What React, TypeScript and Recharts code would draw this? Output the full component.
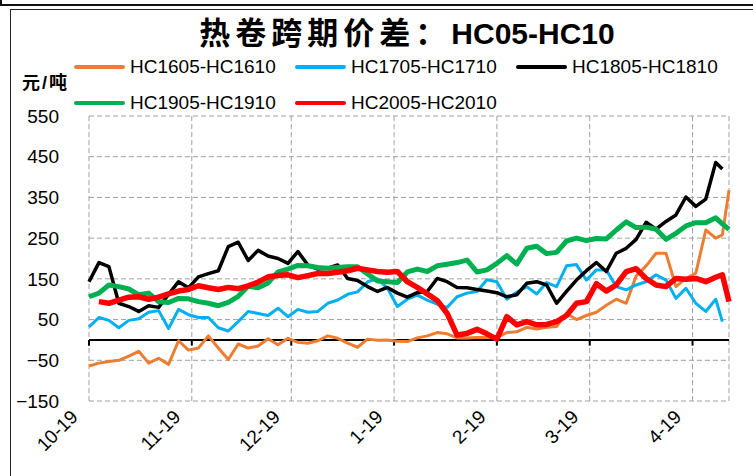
import React from 'react';
import { LineChart, Line, XAxis, YAxis, CartesianGrid, ReferenceLine } from 'recharts';

// Days since 2018-10-19
const days = [0,3,6,9,12,15,18,21,24,27,30,33,36,39,42,45,48,51,54,57,60,63,66,69,72,75,78,81,84,87,90,93,96,99,102,105,108,111,114,117,120,123,126,129,132,135,138,141,144,147,150,153,156,159,162,165,168,171,174,177,180,183,186,189,191,193];

const monthTicks = [0, 31, 61, 92, 123, 151, 182];
const monthLabels = ['10-19', '11-19', '12-19', '1-19', '2-19', '3-19', '4-19'];
const yTicks = [-150, -50, 50, 150, 250, 350, 450, 550];

const hc1605 = [-64,-57,-53,-50,-40,-28,-57,-45,-60,-2,-25,-20,10,-20,-48,-10,-20,
  -15,3,-12,4,-6,-8,-2,10,4,-8,-18,2,-1,0,-3,-4,
  5,10,18,15,5,5,6,6,6,18,20,31,27,31,33,65,
  50,60,68,85,100,90,157,182,213,213,131,151,164,270,250,
  258,368];

const hc1705 = [32,55,48,30,48,52,68,72,28,75,62,55,55,30,22,45,70,
  65,60,78,57,75,68,70,90,98,112,118,143,150,127,82,100,
  110,98,88,80,106,115,119,148,143,100,117,131,113,141,131,182,
  185,147,172,172,131,123,135,143,160,147,102,127,90,70,100,
  45,null];

const hc1805 = [143,190,180,90,82,70,84,80,112,143,128,155,163,170,229,240,195,
  220,206,200,188,217,184,174,176,184,151,146,131,119,129,115,105,
  116,119,151,143,129,128,124,120,116,106,111,139,143,135,90,119,
  147,170,190,168,213,225,247,289,272,291,307,351,328,346,436,
  420,null];

const hc1905 = [106,115,135,131,125,111,115,94,92,102,101,94,90,84,92,107,132,
  128,140,167,174,183,182,178,176,178,180,180,162,145,143,141,167,
  174,168,182,186,190,196,167,172,188,207,186,225,230,212,215,243,
  250,244,249,248,270,290,276,277,272,247,262,280,288,288,300,
  285,272];

const hc2005 = [null,94,90,98,105,106,100,105,113,120,124,133,128,124,129,126,133,
  142,155,158,160,153,158,163,163,166,170,176,172,168,166,168,143,
  129,113,97,65,12,16,26,15,2,57,37,45,37,38,45,60,
  90,94,138,120,135,168,175,151,135,131,151,149,151,143,154,
  160,94];

const seriesNames = ['HC1605-HC1610', 'HC1705-HC1710', 'HC1805-HC1810', 'HC1905-HC1910', 'HC2005-HC2010'];
const seriesKeys = ['hc1605', 'hc1705', 'hc1805', 'hc1905', 'hc2005'];
const seriesColors = ['#ED7D31', '#00B0F0', '#000000', '#00B050', '#FF0000'];
const seriesWidths = [3, 3, 3.5, 5, 5.5];

const data = days.map((d, i) => ({
  d,
  hc1605: hc1605[i],
  hc1705: hc1705[i],
  hc1805: hc1805[i],
  hc1905: hc1905[i],
  hc2005: hc2005[i],
}));

const FONT = '"Liberation Sans", Arial, "Noto Sans CJK SC", sans-serif';

const XTick = (props: any) => {
  const { x, y, payload } = props;
  const i = monthTicks.indexOf(payload.value);
  return (
    <text
      transform={`translate(${x - 10},${y + 17}) rotate(-45)`}
      textAnchor="end"
      fontSize={19}
      fontFamily={FONT}
      fill="#000"
    >
      {monthLabels[i]}
    </text>
  );
};

const fmtY = (v: number) => (v < 0 ? '\u2212' + Math.abs(v) : String(v));

const legendPos = [
  { left: 74, top: 67 },
  { left: 295, top: 67 },
  { left: 516, top: 67 },
  { left: 74, top: 103 },
  { left: 295, top: 103 },
];

export default function App() {
  return (
    <div style={{ position: 'absolute', left: 0, top: 0, width: 753, height: 476, overflow: 'hidden', background: '#fff', fontFamily: FONT }}>
      <div style={{ position: 'absolute', left: 0, top: -20, width: 800, height: 26, border: '2.5px solid #111', boxSizing: 'border-box' }} />
      <div style={{ position: 'absolute', left: 10, top: 9, width: 800, height: 500, border: '1.5px solid #222', boxSizing: 'border-box' }} />
      <div style={{ position: 'absolute', left: 0, top: 0 }}>
        <LineChart width={753} height={476} data={data} margin={{ top: 116, right: 24, left: 19, bottom: 0 }}>
          <CartesianGrid stroke="#a0a0a0" strokeDasharray="5 3" strokeWidth={1} />
          <XAxis
            dataKey="d"
            type="number"
            domain={[0, 193]}
            ticks={monthTicks}
            interval={0}
            height={75}
            axisLine={false}
            tickLine={false}
            tickSize={0}
            tickMargin={0}
            tick={<XTick />}
          />
          <YAxis
            domain={[-150, 550]}
            ticks={yTicks}
            interval={0}
            width={70}
            axisLine={false}
            tickLine={false}
            tickSize={0}
            tickMargin={30}
            tickFormatter={fmtY}
            tick={{ fontSize: 19, fill: '#000', fontFamily: FONT }}
          />
          <ReferenceLine y={0} stroke="#000" strokeWidth={2} />
          {monthTicks.map((t) => (
            <ReferenceLine key={t} segment={[{ x: t, y: 0 }, { x: t, y: -14 }]} stroke="#000" strokeWidth={2} />
          ))}
          {seriesKeys.map((k, i) => (
            <Line
              key={k}
              type="linear"
              dataKey={k}
              name={seriesNames[i]}
              stroke={seriesColors[i]}
              strokeWidth={seriesWidths[i]}
              dot={false}
              activeDot={false}
              strokeLinejoin="round"
              isAnimationActive={false}
            />
          ))}
        </LineChart>
      </div>
      <div style={{ position: 'absolute', left: 0, top: 16, width: 814, textAlign: 'center', fontWeight: 'bold', lineHeight: '36px', whiteSpace: 'nowrap', color: '#000' }}>
        <span style={{ fontSize: 31, letterSpacing: 5 }}>热卷跨期价差：</span>
        <span style={{ fontSize: 30 }}>HC05-HC10</span>
      </div>
      <div style={{ position: 'absolute', left: 22, top: 72, fontSize: 18, fontWeight: 'bold', lineHeight: '22px', letterSpacing: 2, whiteSpace: 'nowrap', color: '#000' }}>
        元/吨
      </div>
      {seriesNames.map((n, i) => (
        <React.Fragment key={n}>
          <div style={{ position: 'absolute', left: legendPos[i].left, top: legendPos[i].top - 2, width: 51, height: 4, background: seriesColors[i], borderRadius: 2 }} />
          <div style={{ position: 'absolute', left: legendPos[i].left + 56, top: legendPos[i].top - 11, fontSize: 19, lineHeight: '22px', whiteSpace: 'nowrap', color: '#000' }}>
            {n}
          </div>
        </React.Fragment>
      ))}
    </div>
  );
}
